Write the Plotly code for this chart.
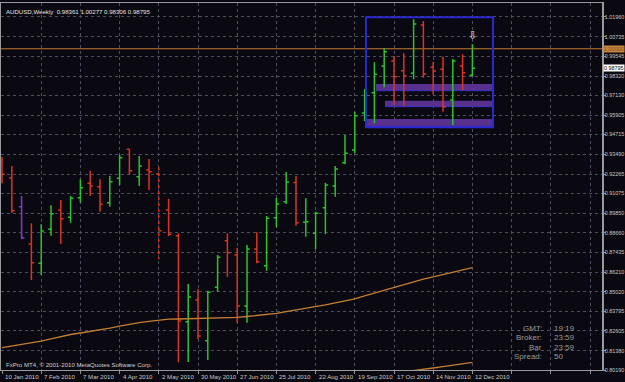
import plotly.graph_objects as go
import pandas as pd

# ---------------- data ----------------
WEEKS = pd.date_range("2010-01-10", periods=49, freq="7D").strftime("%d %b %Y").tolist()

OPEN = [0.93018, 0.92031, 0.90261, 0.87961, 0.86770, 0.88867, 0.90057, 0.89607, 0.90816, 0.91704,
        0.91494, 0.90508, 0.92013, 0.93801, 0.92111, 0.92524, 0.92278, 0.90057, 0.88473, 0.83169,
        0.84507, 0.81997, 0.85290, 0.88164, 0.87282, 0.84137, 0.87652, 0.86623, 0.89583, 0.90570,
        0.91750, 0.89299, 0.88621, 0.90199, 0.91538, 0.92975, 0.93758, 0.96040, 0.97292, 0.98938,
        0.99246, 0.98648, 0.98488, 1.01467, 0.98858, 0.98735, 0.96841, 0.98938, 0.98361]
HIGH = [0.93326, 0.92771, 0.90921, 0.89237, 0.89176, 0.90347, 0.90674, 0.90921, 0.91951, 0.92481,
        0.91951, 0.92154, 0.93449, 0.93838, 0.93388, 0.93203, 0.92691, 0.90754, 0.88621, 0.85494,
        0.85185, 0.85081, 0.87282, 0.88621, 0.87733, 0.87899, 0.88682, 0.89687, 0.90798, 0.92401,
        0.92154, 0.90779, 0.89953, 0.91741, 0.92771, 0.94683, 0.96120, 0.97501, 0.99166, 1.00030,
        0.99555, 0.99721, 1.01818, 1.01713, 0.99203, 0.99512, 0.99370, 0.99660, 1.00277]
LOW = [0.91704, 0.89872, 0.88269, 0.85741, 0.86049, 0.88473, 0.87961, 0.89274, 0.90508, 0.90921,
       0.89953, 0.90261, 0.91599, 0.92216, 0.91538, 0.91291, 0.87017, 0.88454, 0.80665, 0.80684,
       0.82083, 0.80807, 0.85019, 0.85944, 0.83107, 0.83107, 0.86770, 0.86314, 0.88989, 0.90428,
       0.89089, 0.88411, 0.87652, 0.88577, 0.90878, 0.92876, 0.93554, 0.95546, 0.95404, 0.97624,
       0.96533, 0.96471, 0.98118, 0.98217, 0.97193, 0.96120, 0.95300, 0.97458, 0.98306]
CLOSE = [0.92259, 0.90014, 0.88349, 0.86808, 0.88762, 0.89829, 0.89521, 0.90779, 0.91433, 0.91538,
         0.90409, 0.91803, 0.93283, 0.92481, 0.92771, 0.92420, 0.88781, 0.88559, 0.83212, 0.84692,
         0.82287, 0.84982, 0.87140, 0.87424, 0.84137, 0.87652, 0.86869, 0.89546, 0.90428, 0.91784,
         0.89274, 0.89336, 0.89854, 0.91599, 0.92586, 0.93554, 0.95873, 0.97150, 0.98426, 0.99820,
         0.98278, 0.98340, 1.01528, 0.98445, 0.98630, 0.96428, 0.99246, 0.98525, 0.98795]

MA_MID = [0.81565, 0.81658, 0.81750, 0.81843, 0.81972, 0.82114, 0.82256, 0.82379, 0.82472, 0.82564,
          0.82657, 0.82774, 0.82897, 0.83015, 0.83113, 0.83194, 0.83280, 0.83323, 0.83335, 0.83348,
          0.83366, 0.83378, 0.83397, 0.83415, 0.83434, 0.83489, 0.83551, 0.83619, 0.83681, 0.83786,
          0.83884, 0.83983, 0.84100, 0.84205, 0.84328, 0.84452, 0.84581, 0.84754, 0.84933, 0.85105,
          0.85278, 0.85451, 0.85629, 0.85790, 0.85932, 0.86074, 0.86215, 0.86357, 0.86505]
MA_LONG = [None] * 41 + [0.80079, 0.80172, 0.80233, 0.80313, 0.80400, 0.80492, 0.80578, 0.80665]

DATE_LABELS = ["10 Jan 2010", "7 Feb 2010", "7 Mar 2010", "4 Apr 2010", "2 May 2010",
               "30 May 2010", "27 Jun 2010", "25 Jul 2010", "22 Aug 2010", "19 Sep 2010",
               "17 Oct 2010", "14 Nov 2010", "12 Dec 2010"]
PRICE_TICKS = ["1.01960", "1.00735", "0.99545", "0.98320", "0.97130", "0.95905", "0.94715",
               "0.93490", "0.92265", "0.91075", "0.89850", "0.88660", "0.87435", "0.86210",
               "0.85020", "0.83795", "0.82605", "0.81380", "0.80190"]

LEVEL_LINE = 1.00000
PURPLE_BAR = 2
DASHED_BAR = 16
# zone objects (bar index span, price span)
ZONE_BOX = (37.14, 50.1, 0.95158, 1.01941)
ZONE_BANDS = [(38.16, 50.0, 0.97415, 0.97828),
              (39.08, 50.0, 0.96428, 0.96798),
              (37.2, 50.0, 0.95195, 0.95670)]

# ---------------- style ----------------
BG = "#0a0810"
GREEN = "#2cc42c"
RED = "#dc3420"
PURPLE = "#7a3cc8"
ORANGE = "#c47e34"
GRID = "#4a4e60"
TXT = "#c8c8c8"
FONT = "Liberation Sans"
FS = 6.1
FSY = 5.4

N = len(OPEN)
X = list(range(N))


def pick(vals, keep):
    return [v if keep(i) else None for i, v in enumerate(vals)]


normal = lambda i: i not in (PURPLE_BAR, DASHED_BAR)

fig = go.Figure()

# moving averages
fig.add_trace(go.Scatter(x=X, y=MA_MID, mode="lines", line=dict(color=ORANGE, width=1.3),
                         hoverinfo="skip"))
fig.add_trace(go.Scatter(x=X, y=MA_LONG, mode="lines", line=dict(color=ORANGE, width=1.3),
                         hoverinfo="skip"))

fig.add_trace(go.Ohlc(
    x=X, open=pick(OPEN, normal), high=pick(HIGH, normal), low=pick(LOW, normal),
    close=pick(CLOSE, normal), tickwidth=0.28, text=WEEKS,
    increasing=dict(line=dict(color=GREEN, width=1.5)),
    decreasing=dict(line=dict(color=RED, width=1.5))))

sel = lambda k: (lambda i: i == k)
fig.add_trace(go.Ohlc(
    x=X, open=pick(OPEN, sel(PURPLE_BAR)), high=pick(HIGH, sel(PURPLE_BAR)),
    low=pick(LOW, sel(PURPLE_BAR)), close=pick(CLOSE, sel(PURPLE_BAR)), tickwidth=0.28,
    increasing=dict(line=dict(color=PURPLE, width=1.6)),
    decreasing=dict(line=dict(color=PURPLE, width=1.6))))
fig.add_trace(go.Ohlc(
    x=X, open=pick(OPEN, sel(DASHED_BAR)), high=pick(HIGH, sel(DASHED_BAR)),
    low=pick(LOW, sel(DASHED_BAR)), close=pick(CLOSE, sel(DASHED_BAR)), tickwidth=0.28,
    increasing=dict(line=dict(color=RED, width=1.5, dash="dot")),
    decreasing=dict(line=dict(color=RED, width=1.5, dash="dot"))))

# objects
shapes = []
shapes.append(dict(type="line", xref="paper", x0=0, x1=1, yref="y", y0=LEVEL_LINE, y1=LEVEL_LINE,
                   line=dict(color=ORANGE, width=1), layer="between"))
for x0, x1, y0, y1 in ZONE_BANDS:
    shapes.append(dict(type="rect", xref="x", yref="y", x0=x0, x1=x1, y0=y0, y1=y1,
                       fillcolor="#58318f", line=dict(width=0), layer="between"))
    shapes.append(dict(type="line", xref="x", yref="y", x0=x0, x1=x1, y0=y0, y1=y0,
                       line=dict(color="#3a30c8", width=1), layer="between"))
bx0, bx1, by0, by1 = ZONE_BOX
shapes.append(dict(type="rect", xref="x", yref="y", x0=bx0, x1=bx1, y0=by0, y1=by1,
                   fillcolor="rgba(0,0,0,0)", line=dict(color="#2a2ad0", width=2), layer="above"))

ann = []
# date labels
for k, lab in enumerate(DATE_LABELS):
    ann.append(dict(x=4 * k, xref="x", y=0, yref="paper", yanchor="top", xanchor="left",
                    xshift=1, yshift=-1, text=lab, showarrow=False,
                    font=dict(family=FONT, size=FS, color=TXT)))
# header
ann.append(dict(x=0, xref="paper", y=1, yref="paper", xanchor="left", yanchor="top", xshift=3,
                yshift=-3, showarrow=False,
                text="AUDUSD,Weekly&nbsp;&nbsp;%.5f %.5f %.5f %.5f" % (OPEN[-1], HIGH[-1], LOW[-1], CLOSE[-1]),
                font=dict(family=FONT, size=FS, color="#e6e6e6")))
ann.append(dict(x=0, xref="paper", y=0, yref="paper", xanchor="left", yanchor="bottom", xshift=3,
                yshift=0, showarrow=False,
                text="FxPro MT4, © 2001-2010 MetaQuotes Software Corp.",
                font=dict(family=FONT, size=FS, color="#d0d0d0")))
# info block
info = [("GMT:", "19:19", 0.1140), ("Broker:", "23:59", 0.0880), ("Bar", "23:59", 0.0620),
        ("Spread:", "50", 0.0360)]
for lab, val, yp in info:
    ann.append(dict(x=0.9035, xref="paper", y=yp, yref="paper", xanchor="right", yanchor="middle",
                    text=lab, showarrow=False, font=dict(family=FONT, size=8, color="#9a9a9a")))
    ann.append(dict(x=0.9168, xref="paper", y=yp, yref="paper", xanchor="left", yanchor="middle",
                    text=val, showarrow=False, font=dict(family=FONT, size=8, color="#9a9a9a")))
# price boxes on the axis
ann.append(dict(x=1, xref="paper", y=LEVEL_LINE, yref="y", xanchor="left", yanchor="middle",
                xshift=1, text="1.00000", showarrow=False, bgcolor="#c8843c", borderpad=0,
                font=dict(family=FONT, size=FSY, color="#7a5426")))
ann.append(dict(x=1, xref="paper", y=CLOSE[-1], yref="y", xanchor="left", yanchor="middle",
                xshift=1, text="%.5f" % CLOSE[-1], showarrow=False, bgcolor="#ffffff", borderpad=0,
                font=dict(family=FONT, size=FSY, color="#000000")))
# arrow mark over the last bar
ann.append(dict(x=N - 1, xref="x", y=HIGH[-1], yref="y", yanchor="bottom", yshift=0,
                text="⇩", showarrow=False, font=dict(family="DejaVu Sans", size=11, color="#e8e8e8")))

fig.update_layout(
    width=625, height=382, margin=dict(l=1, r=23, t=3, b=12, autoexpand=False),
    paper_bgcolor=BG, plot_bgcolor=BG, showlegend=False,
    shapes=shapes, annotations=ann,
    xaxis=dict(range=[-0.102, 61.224], rangeslider=dict(visible=False), automargin=False,
               tickvals=list(range(0, 61, 4)), showticklabels=False,
               ticks="outside", ticklen=3, tickcolor="#909090",
               showgrid=True, gridcolor=GRID, griddash="dot", gridwidth=1,
               showline=True, linecolor="#9a9a9a", linewidth=1, mirror=True, zeroline=False),
    yaxis=dict(range=[0.80190, 1.02823], side="right", automargin=False,
               tickvals=[float(t) for t in PRICE_TICKS], ticktext=PRICE_TICKS,
               ticks="outside", ticklen=2, tickcolor="#909090", ticklabelstandoff=-2,
               tickfont=dict(family=FONT, size=FSY, color=TXT),
               showgrid=True, gridcolor=GRID, griddash="dot", gridwidth=1,
               showline=True, linecolor="#9a9a9a", linewidth=1.5, mirror=True, zeroline=False),
)

fig.write_html("out.html")
